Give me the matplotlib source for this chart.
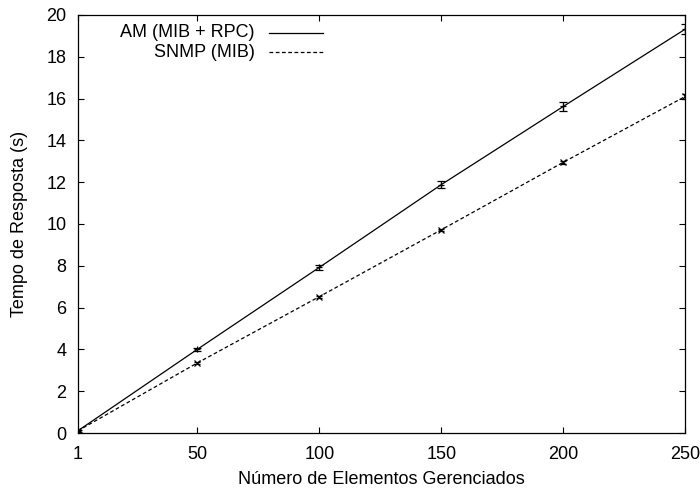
import matplotlib.pyplot as plt

plt.rcParams["font.family"] = ["Liberation Sans", "DejaVu Sans"]

# Response time vs. number of managed elements
elementos = [1, 50, 100, 150, 200, 250]
am_tempo = [0.10, 4.00, 7.92, 11.88, 15.62, 19.32]
am_erro = [0.05, 0.06, 0.10, 0.17, 0.20, 0.24]
snmp_tempo = [0.10, 3.35, 6.52, 9.72, 12.95, 16.10]
snmp_erro = [0.03, 0.04, 0.05, 0.06, 0.08, 0.10]

xticks = [1, 50, 100, 150, 200, 250]
yticks = list(range(0, 21, 2))

fig = plt.figure(figsize=(7, 4.96), dpi=100)
ax = fig.add_axes([0.111, 0.127, 0.868, 0.843])

ax.errorbar(elementos, am_tempo, yerr=am_erro, color="black", lw=0.9,
            marker="+", ms=5, mew=0.9, capsize=3, elinewidth=0.9, capthick=0.9)
ax.errorbar(elementos, snmp_tempo, yerr=snmp_erro, color="black", lw=0.9,
            ls=(0, (3, 2)), marker="x", ms=4, mew=0.9, capsize=2,
            elinewidth=0.9, capthick=0.9)

ax.set_xlim(1, 250)
ax.set_ylim(0, 20)
ax.set_xticks(xticks)
ax.set_yticks(yticks)
ax.tick_params(direction="in", length=4, width=0.8, top=True, right=True,
               labelsize=13)
ax.tick_params(axis="x", pad=9)
ax.tick_params(axis="y", pad=8)
for s in ax.spines.values():
    s.set_linewidth(0.9)

ax.set_xlabel("Número de Elementos Gerenciados", fontsize=13, labelpad=6)
ax.set_ylabel("Tempo de Resposta (s)", fontsize=13)
ax.yaxis.set_label_coords(-0.082, 0.5)

# gnuplot-style key: right-aligned text followed by line sample
key = [("AM (MIB + RPC)", "-"), ("SNMP (MIB)", (0, (3, 2)))]
for i, (label, ls) in enumerate(key):
    y = 0.957 - i * 0.046
    ax.text(0.291, y, label, transform=ax.transAxes, ha="right", va="center",
            fontsize=13)
    ax.plot([0.315, 0.403], [y, y], transform=ax.transAxes, color="black",
            lw=0.9, ls=ls)

fig.savefig("out.png", dpi=100)
